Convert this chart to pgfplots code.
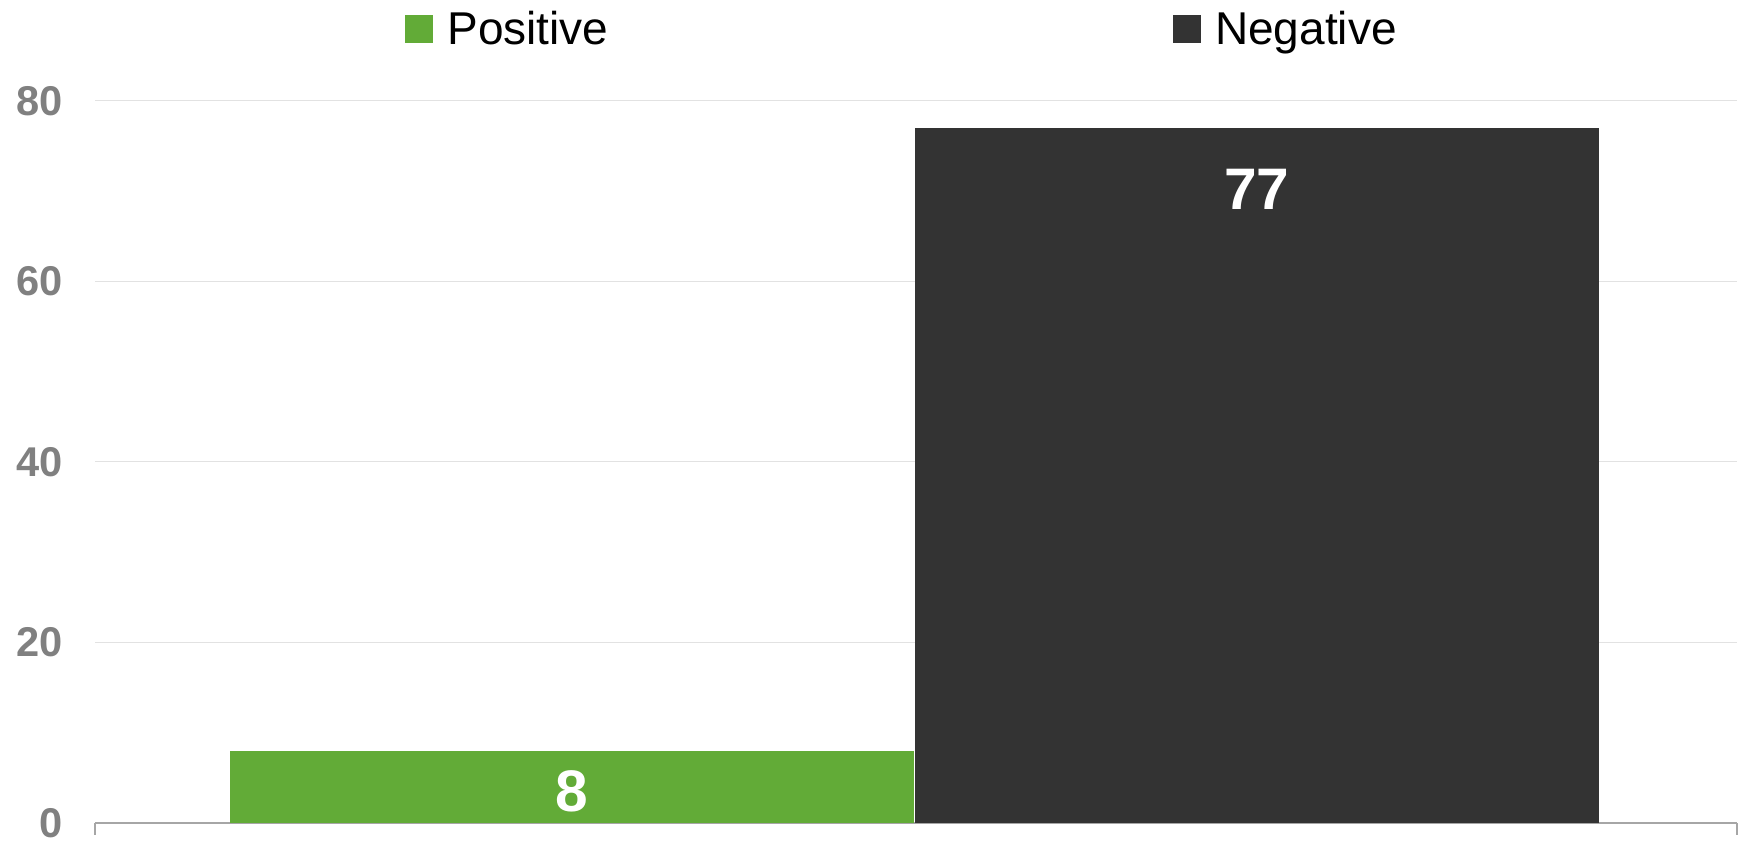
\documentclass[border=0pt]{standalone}
\usepackage{fontspec}
\setmainfont{Liberation Sans}
\usepackage{pgfplots}
\pgfplotsset{compat=1.18}
\definecolor{posgreen}{RGB}{98,171,55}
\definecolor{negdark}{RGB}{51,51,51}
\definecolor{ticklab}{RGB}{128,128,128}
\definecolor{gridc}{RGB}{226,226,226}
\definecolor{axc}{RGB}{166,166,166}
\begin{document}
\begin{tikzpicture}
\path[use as bounding box] (-47.75pt,-9pt) rectangle ++(871pt,420.5pt);
\begin{axis}[name=ax, at={(0,0)}, anchor=south west, scale only axis, width=820.75pt, height=361pt,
  xmin=0, xmax=1641.5, ymin=0, ymax=80, clip=false,
  axis lines*=left,
  y axis line style={draw=none},
  x axis line style={axc, line width=1pt},
  xtick={0,1641.5}, xticklabel=\empty,
  tick align=outside, major tick length=6pt,
  x tick style={axc, line width=1pt},
  ytick={0,20,40,60,80}, y tick style={draw=none},
  ymajorgrids, grid style={gridc, line width=0.5pt},
  /pgf/number format/assume math mode=true,
  yticklabel style={font=\fontsize{20.8}{21}\selectfont\bfseries, text=ticklab, inner sep=0pt, anchor=east, xshift=-10pt},
  bar width=684,
  legend columns=2,
  legend image code/.code={\fill[#1] (0pt,-7pt) rectangle (14pt,7pt);},
  legend style={at={(0,1)}, anchor=west, xshift=154.75pt, yshift=36pt, draw=none, inner sep=0pt,
    font=\fontsize{23}{25}\selectfont, nodes={inner sep=0pt},
    /tikz/every odd column/.append style={column sep=7pt},
    /tikz/every even column/.append style={column sep=282.3pt}},
]
\addplot[ybar, bar shift=0pt, fill=posgreen, draw=none, nodes near coords,
  nodes near coords style={anchor=north, yshift=-9.5pt, inner sep=0pt, text=white, font=\fontsize{29.3}{30}\selectfont\bfseries}]
  coordinates {(476.5,8)};
\addlegendentry{Positive}
\addplot[ybar, bar shift=0pt, fill=negdark, draw=none, nodes near coords,
  nodes near coords style={anchor=north, yshift=-20.5pt, inner sep=0pt, text=white, font=\fontsize{29.3}{30}\selectfont\bfseries}]
  coordinates {(1161.5,77)};
\addlegendentry{Negative}
\end{axis}
\end{tikzpicture}
\end{document}
